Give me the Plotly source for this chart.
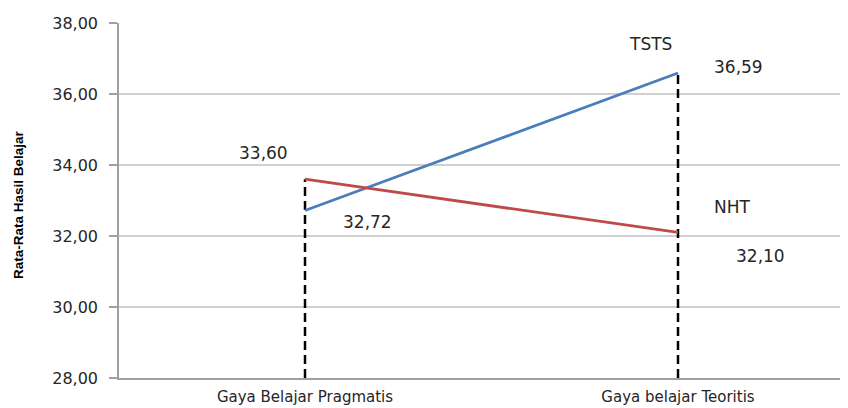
import plotly.graph_objects as go

categories = ["Gaya Belajar Pragmatis", "Gaya belajar Teoritis"]
tsts = [32.72, 36.59]
nht = [33.60, 32.10]
y_ticks = [28, 30, 32, 34, 36, 38]
y_tick_labels = ["28,00", "30,00", "32,00", "34,00", "36,00", "38,00"]
y_min = 28

BLUE = "#4A7EBB"
RED = "#BE4B48"
TXT = "#262626"
FONT = "DejaVu Sans"

W, H = 832, 400
ML, MR, MT, MB = 111, 0, 15, 30

fig = go.Figure()

# dashed drop lines from axis bottom to highest value at each category
for i, cat in enumerate(categories):
    top = max(tsts[i], nht[i])
    fig.add_trace(go.Scatter(x=[i, i], y=[y_min, top], mode="lines",
                             line=dict(color="black", width=2.5, dash="9px,5px"),
                             showlegend=False, hoverinfo="skip"))

idx = list(range(len(categories)))
fig.add_trace(go.Scatter(x=idx, y=tsts, mode="lines", name="TSTS",
                         line=dict(color=BLUE, width=2.8), showlegend=False))
fig.add_trace(go.Scatter(x=idx, y=nht, mode="lines", name="NHT",
                         line=dict(color=RED, width=2.8), showlegend=False))

def fmt(v):
    return f"{v:.2f}".replace(".", ",")

ann = [
    (0, nht[0], fmt(nht[0]), -42, 26),
    (0, tsts[0], fmt(tsts[0]), 62, -12),
    (1, tsts[1], fmt(tsts[1]), 60, 6),
    (1, nht[1], fmt(nht[1]), 82, -24),
    (1, tsts[1], "TSTS", -28, 29),
    (1, nht[1], "NHT", 54, 25),
]
for x, y, t, xs, ys in ann:
    fig.add_annotation(x=x, y=y, text=t, showarrow=False, xshift=xs, yshift=ys,
                       font=dict(family=FONT, size=17, color=TXT))

plot_w = W - ML - MR
# y-axis title
fig.add_annotation(xref="paper", yref="paper", x=(10 - ML) / plot_w, y=0.487,
                   xanchor="center", yanchor="middle", textangle=-90, showarrow=False,
                   text="<b>Rata-Rata Hasil Belajar</b>",
                   font=dict(family="Liberation Sans Narrow, Arial Narrow, Liberation Sans",
                             size=13.5, color="black"))

unit = 373.0
x_left = (ML - 297) / unit
x_right = x_left + plot_w / unit

fig.update_layout(
    width=W, height=H,
    margin=dict(l=ML, r=MR, t=MT, b=MB, autoexpand=False),
    paper_bgcolor="white", plot_bgcolor="white",
    xaxis=dict(
        tickmode="array", tickvals=idx, ticktext=categories,
        range=[x_left, x_right], showgrid=False, zeroline=False,
        showline=True, linecolor="#A0A0A0", linewidth=1.5,
        ticks="", tickfont=dict(family=FONT, size=15, color=TXT),
        ticklabelstandoff=4, automargin=False,
    ),
    yaxis=dict(
        range=[28, 38], tickmode="array", tickvals=y_ticks, ticktext=y_tick_labels,
        showgrid=True, gridcolor="#D0D0D0", gridwidth=1.5, zeroline=False,
        showline=True, linecolor="#A0A0A0", linewidth=1.5,
        ticks="outside", ticklen=8, tickcolor="#A0A0A0", tickwidth=1.5,
        tickfont=dict(family=FONT, size=16, color=TXT),
        ticklabelstandoff=8, automargin=False,
    ),
)

fig.write_html("out.html")
